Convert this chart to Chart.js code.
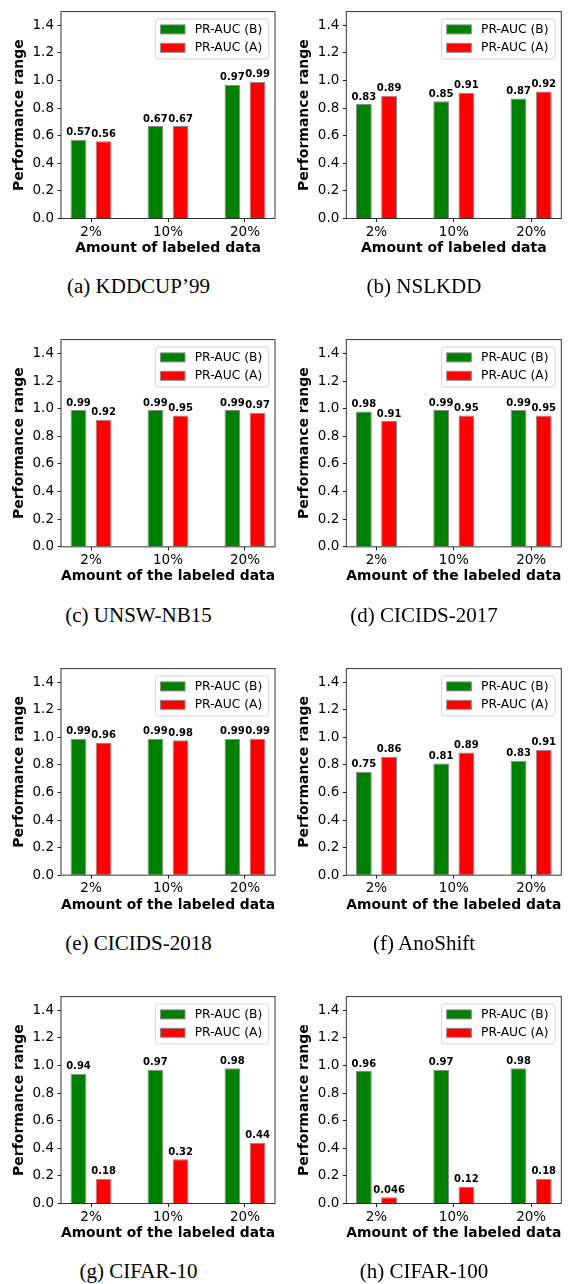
<!DOCTYPE html>
<html>
<head>
<meta charset="utf-8">
<script src="https://cdn.jsdelivr.net/npm/chart.js@4/dist/chart.umd.min.js"></script>
<style>
  html, body { margin: 0; padding: 0; background: #fff; }
  body { width: 577px; height: 1284px; position: relative; overflow: hidden; }
  canvas.panel { position: absolute; }
  .cap { position: absolute; font-family: "Liberation Serif", "Times New Roman", serif; font-size: 21px;
         line-height: 24px; white-space: nowrap; transform: translate(-50%, -50%); color: #000; }
</style>
</head>
<body>
<script>
// ---------- data ----------
const categories = ['2%', '10%', '20%'];
const seriesNames = ['PR-AUC (B)', 'PR-AUC (A)'];
const yTicks = [0.0, 0.2, 0.4, 0.6, 0.8, 1.0, 1.2, 1.4];

const kddcupB   = [0.57, 0.67, 0.97];
const kddcupA   = [0.56, 0.67, 0.99];
const nslkddB   = [0.83, 0.85, 0.87];
const nslkddA   = [0.89, 0.91, 0.92];
const unswB     = [0.99, 0.99, 0.99];
const unswA     = [0.92, 0.95, 0.97];
const cic2017B  = [0.98, 0.99, 0.99];
const cic2017A  = [0.91, 0.95, 0.95];
const cic2018B  = [0.99, 0.99, 0.99];
const cic2018A  = [0.96, 0.98, 0.99];
const anoshiftB = [0.75, 0.81, 0.83];
const anoshiftA = [0.86, 0.89, 0.91];
const cifar10B  = [0.94, 0.97, 0.98];
const cifar10A  = [0.18, 0.32, 0.44];
const cifar100B = [0.96, 0.97, 0.98];
const cifar100A = [0.046, 0.12, 0.18];

const captions = ['(a) KDDCUP\u201999', '(b) NSLKDD', '(c) UNSW-NB15', '(d) CICIDS-2017',
                  '(e) CICIDS-2018', '(f) AnoShift', '(g) CIFAR-10', '(h) CIFAR-100'];
const xTitleShort = 'Amount of labeled data';
const xTitleLong = 'Amount of the labeled data';
const yTitle = 'Performance range';

const panels = [
  { cap: captions[0], xt: xTitleShort, b: kddcupB,   a: kddcupA },
  { cap: captions[1], xt: xTitleShort, b: nslkddB,   a: nslkddA },
  { cap: captions[2], xt: xTitleLong,  b: unswB,     a: unswA },
  { cap: captions[3], xt: xTitleLong,  b: cic2017B,  a: cic2017A },
  { cap: captions[4], xt: xTitleLong,  b: cic2018B,  a: cic2018A },
  { cap: captions[5], xt: xTitleLong,  b: anoshiftB, a: anoshiftA },
  { cap: captions[6], xt: xTitleLong,  b: cifar10B,  a: cifar10A },
  { cap: captions[7], xt: xTitleLong,  b: cifar100B, a: cifar100A }
];

// ---------- styles / layout ----------
const GREEN = '#008000', RED = '#ff0000', EDGE = '#8a8a8a';
Chart.defaults.font.family = 'DejaVu Sans';
Chart.defaults.color = '#000';

const frameBox = {
  id: 'frameBox',
  afterDatasetsDraw(chart) {
    const { ctx, chartArea: a } = chart;
    ctx.save();
    ctx.strokeStyle = '#333';
    ctx.lineWidth = 1;
    ctx.strokeRect(a.left, a.top, a.right - a.left, a.bottom - a.top);
    ctx.restore();
  }
};

const valueLabels = {
  id: 'valueLabels',
  afterDatasetsDraw(chart) {
    const { ctx } = chart;
    ctx.save();
    ctx.font = 'bold 10px "DejaVu Sans"';
    ctx.fillStyle = '#000';
    ctx.textAlign = 'center';
    ctx.textBaseline = 'alphabetic';
    chart.data.datasets.forEach((ds, di) => {
      const meta = chart.getDatasetMeta(di);
      meta.data.forEach((el, i) => {
        ctx.fillText(String(ds.data[i].y), el.x, el.y - 4.5);
      });
    });
    ctx.restore();
  }
};

const innerLegend = {
  id: 'innerLegend',
  afterDraw(chart) {
    const { ctx, chartArea: a } = chart;
    const w = 113.3, h = 40;
    const x0 = a.right - 6.3 - w, y0 = a.top + 7.3;
    ctx.save();
    ctx.beginPath();
    ctx.roundRect(x0, y0, w, h, 3);
    ctx.fillStyle = 'rgba(255,255,255,0.8)';
    ctx.fill();
    ctx.strokeStyle = '#d4d4d4';
    ctx.lineWidth = 1;
    ctx.stroke();
    ctx.font = '12.3px "DejaVu Sans"';
    ctx.textBaseline = 'middle';
    ctx.textAlign = 'left';
    chart.data.datasets.forEach((ds, i) => {
      const cy = y0 + 10.5 + i * 18.4;
      ctx.fillStyle = ds.backgroundColor;
      ctx.fillRect(x0 + 5, cy - 4.5, 24.6, 9);
      ctx.strokeStyle = EDGE;
      ctx.strokeRect(x0 + 5, cy - 4.5, 24.6, 9);
      ctx.fillStyle = '#000';
      ctx.fillText(ds.label, x0 + 39.3, cy + 0.5);
    });
    ctx.restore();
  }
};

const ROW_STEP = 328.33;
const CANVAS_H = 262;
const PLOT_H = 213.5;
const X_AXIS_H = 38.4;

panels.forEach((p, idx) => {
  const r = Math.floor(idx / 2), c = idx % 2;
  const rowTop = 5 + r * ROW_STEP;
  const canvasTop = Math.round(rowTop - 5);
  const canvasLeft = c === 0 ? 0 : 285;
  const canvasW = c === 0 ? 288 : 292;
  const plotLeftAbs = c === 0 ? 61 : 346.3;
  const plotW = c === 0 ? 214 : 215;
  const padL = plotLeftAbs - canvasLeft - 61;
  const padT = rowTop - canvasTop;
  const padR = canvasW - padL - 61 - plotW;
  const padB = CANVAS_H - padT - PLOT_H - X_AXIS_H;

  const cv = document.createElement('canvas');
  cv.className = 'panel';
  cv.width = canvasW; cv.height = CANVAS_H;
  cv.style.left = canvasLeft + 'px';
  cv.style.top = canvasTop + 'px';
  cv.style.width = canvasW + 'px';
  cv.style.height = CANVAS_H + 'px';
  document.body.appendChild(cv);

  const cap = document.createElement('div');
  cap.className = 'cap';
  cap.textContent = p.cap;
  cap.style.left = (c === 0 ? 138.5 : 424) + 'px';
  cap.style.top = (rowTop + 281.3) + 'px';
  document.body.appendChild(cap);

  const mk = (arr) => arr.map((v, i) => ({ x: i, y: v }));

  new Chart(cv, {
    type: 'bar',
    data: {
      datasets: [
        { label: seriesNames[0], data: mk(p.b), backgroundColor: GREEN, borderColor: EDGE, borderWidth: 1 },
        { label: seriesNames[1], data: mk(p.a), backgroundColor: RED, borderColor: EDGE, borderWidth: 1 }
      ]
    },
    options: {
      responsive: false,
      animation: false,
      events: [],
      categoryPercentage: 0.652,
      barPercentage: 0.629,
      layout: { padding: { left: padL, top: padT, right: padR, bottom: padB } },
      plugins: { legend: { display: false }, tooltip: { enabled: false } },
      scales: {
        x: {
          type: 'linear', min: -0.39, max: 2.39, offset: false,
          afterBuildTicks: (ax) => { ax.ticks = categories.map((_, i) => ({ value: i })); },
          afterFit: (ax) => { ax.height = X_AXIS_H; },
          ticks: { callback: (v) => categories[v], font: { size: 13.5 }, color: '#000', padding: 2,
                   maxRotation: 0, autoSkip: false },
          grid: { offset: false, drawOnChartArea: false, drawTicks: true, tickLength: 3.5, color: '#222', tickWidth: 1 },
          border: { display: false },
          title: { display: true, text: p.xt, font: { size: 14, weight: 'bold' }, color: '#000',
                   padding: { top: 0, bottom: 0 } }
        },
        y: {
          min: 0, max: 1.5,
          afterBuildTicks: (ax) => { ax.ticks = yTicks.map(v => ({ value: v })); },
          afterFit: (ax) => { ax.width = 61; },
          ticks: { callback: (v) => Number(v).toFixed(1), font: { size: 13.5 }, color: '#000', padding: 3.5,
                   autoSkip: false },
          grid: { offset: false, drawOnChartArea: false, drawTicks: true, tickLength: 3.5, color: '#222', tickWidth: 1 },
          border: { display: false },
          title: { display: true, text: yTitle, font: { size: 14, weight: 'bold' }, color: '#000',
                   padding: { top: 11, bottom: 0 } }
        }
      }
    },
    plugins: [frameBox, valueLabels, innerLegend]
  });
});
</script>
</body>
</html>
